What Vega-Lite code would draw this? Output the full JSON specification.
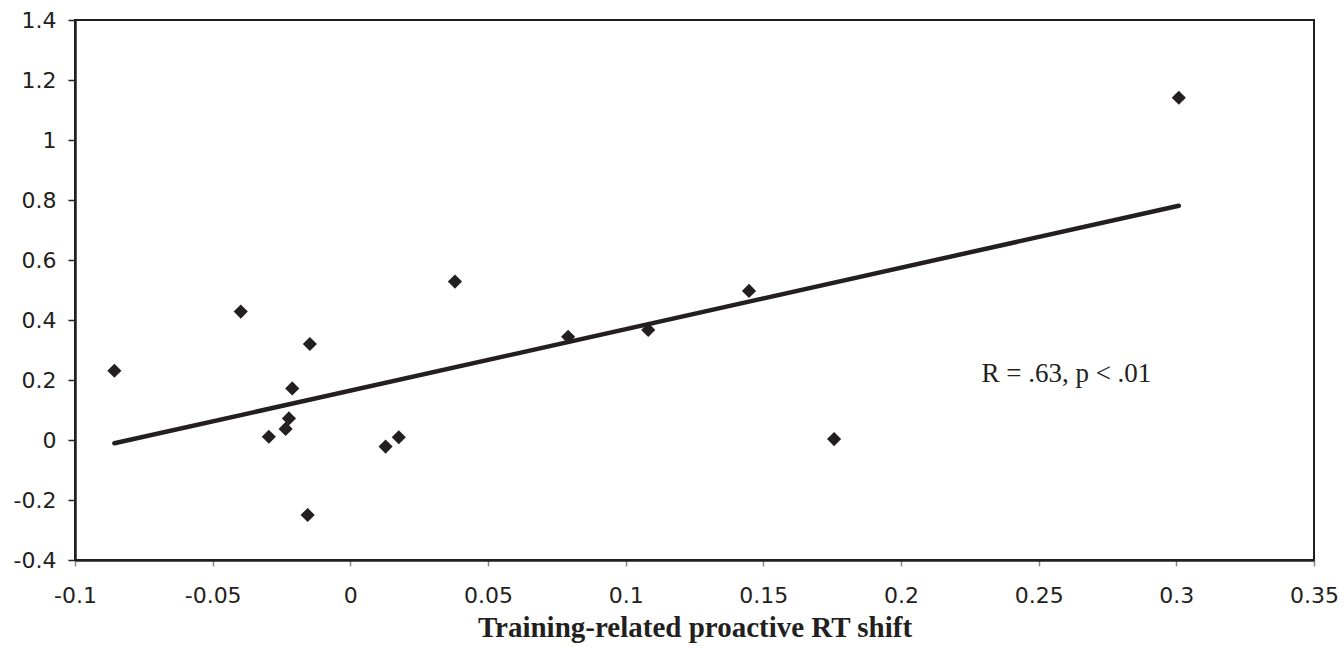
{
  "$schema": "https://vega.github.io/schema/vega-lite/v6.json",
  "width": 1239,
  "height": 540,
  "autosize": "none",
  "padding": {"left": 75, "top": 20, "right": 30, "bottom": 95},
  "background": "white",
  "config": {
    "view": {"stroke": "#231f20", "strokeWidth": 2},
    "axis": {
      "grid": false,
      "domainColor": "#231f20",
      "domainWidth": 2.5,
      "labelFont": "DejaVu Sans",
      "labelFontSize": 22,
      "labelColor": "#231f20",
      "labelFlush": false,
      "labelOverlap": false,
      "tickSize": 7,
      "tickWidth": 1.5
    }
  },
  "datasets": {
    "pts": [
      {"shift": -0.0857, "value": 0.231},
      {"shift": -0.0398, "value": 0.428},
      {"shift": -0.0296, "value": 0.011},
      {"shift": -0.0235, "value": 0.037},
      {"shift": -0.0223, "value": 0.072},
      {"shift": -0.0211, "value": 0.172},
      {"shift": -0.0155, "value": -0.250},
      {"shift": -0.0147, "value": 0.320},
      {"shift": 0.0128, "value": -0.022},
      {"shift": 0.0176, "value": 0.009},
      {"shift": 0.0380, "value": 0.528},
      {"shift": 0.0791, "value": 0.344},
      {"shift": 0.1082, "value": 0.367},
      {"shift": 0.1448, "value": 0.497},
      {"shift": 0.1757, "value": 0.003},
      {"shift": 0.3009, "value": 1.141}
    ],
    "fit": [
      {"shift": -0.0857, "value": -0.011},
      {"shift": 0.3009, "value": 0.781}
    ],
    "note": [
      {"shift": 0.2292, "value": 0.194, "label": "R = .63, p < .01"}
    ]
  },
  "layer": [
    {
      "data": {"name": "fit"},
      "mark": {"type": "line", "color": "#231f20", "strokeWidth": 4.5, "strokeCap": "round"},
      "encoding": {
        "x": {
          "field": "shift", "type": "quantitative",
          "scale": {"domain": [-0.1, 0.35], "nice": false, "zero": false},
          "axis": {
            "values": [-0.1, -0.05, 0, 0.05, 0.1, 0.15, 0.2, 0.25, 0.3, 0.35],
            "labelExpr": "'' + datum.value",
            "tickColor": "#888888",
            "tickSize": 6,
            "labelPadding": 19,
            "title": "Training-related proactive RT shift",
            "titleFont": "Liberation Serif",
            "titleFontWeight": "bold",
            "titleFontSize": 29,
            "titleColor": "#231f20",
            "titlePadding": 7
          }
        },
        "y": {
          "field": "value", "type": "quantitative",
          "scale": {"domain": [-0.4, 1.4], "nice": false, "zero": false},
          "axis": {
            "values": [-0.4, -0.2, 0, 0.2, 0.4, 0.6, 0.8, 1, 1.2, 1.4],
            "labelExpr": "'' + datum.value",
            "tickColor": "#231f20",
            "labelPadding": 12,
            "title": null
          }
        }
      }
    },
    {
      "data": {"name": "pts"},
      "mark": {"type": "point", "shape": "diamond", "filled": true, "color": "#231f20", "size": 200, "opacity": 1},
      "encoding": {
        "x": {"field": "shift", "type": "quantitative"},
        "y": {"field": "value", "type": "quantitative"}
      }
    },
    {
      "data": {"name": "note"},
      "mark": {"type": "text", "align": "left", "baseline": "alphabetic", "font": "Liberation Serif", "fontSize": 27, "color": "#231f20"},
      "encoding": {
        "x": {"field": "shift", "type": "quantitative"},
        "y": {"field": "value", "type": "quantitative"},
        "text": {"field": "label"}
      }
    }
  ]
}
